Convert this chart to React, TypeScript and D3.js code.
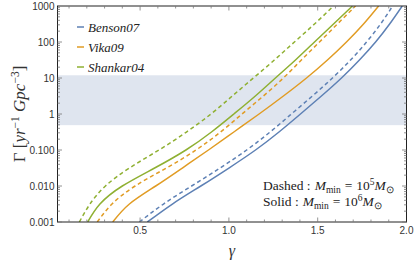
import React, { useEffect, useRef } from "react";
import * as d3 from "d3";

const levels = [0.001, 0.00316, 0.01, 0.0316, 0.1, 0.316, 1, 3.16, 10, 31.6, 100, 316, 1000];
// gamma (x) at which each curve crosses those levels
const bensonDashed = [0.496, 0.632, 0.79, 0.95, 1.1, 1.232, 1.352, 1.47, 1.583, 1.685, 1.775, 1.854, 1.922];
const bensonSolid = [0.541, 0.682, 0.842, 1.0, 1.15, 1.282, 1.403, 1.521, 1.634, 1.735, 1.826, 1.905, 1.976];
const vikaDashed = [0.259, 0.342, 0.472, 0.648, 0.815, 0.953, 1.074, 1.194, 1.307, 1.408, 1.51, 1.611, 1.713];
const vikaSolid = [0.346, 0.44, 0.588, 0.738, 0.885, 1.028, 1.17, 1.307, 1.437, 1.555, 1.662, 1.758, 1.843];
const shankarDashed = [0.158, 0.218, 0.305, 0.44, 0.606, 0.761, 0.899, 1.019, 1.138, 1.256, 1.369, 1.482, 1.589];
const shankarSolid = [0.205, 0.274, 0.4, 0.582, 0.758, 0.902, 1.028, 1.149, 1.262, 1.375, 1.482, 1.589, 1.696];

const legendNames = ["Benson07", "Vika09", "Shankar04"];
const colors = ["#5E81B5", "#E19C24", "#8FB032"];
const bandRange = [0.49, 11.9];
const xTicks = [0.5, 1.0, 1.5, 2.0];
const yTicks = [0.001, 0.01, 0.1, 1, 10, 100, 1000];
const yTickLabels = ["0.001", "0.010", "0.100", "1", "10", "100", "1000"];

export default function App() {
  const ref = useRef<SVGSVGElement>(null);

  useEffect(() => {
    const svg = d3.select(ref.current);
    svg.selectAll("*").remove();

    const left = 57.5, right = 406.5, top = 6, bottom = 222;
    const x = d3.scaleLinear().domain([0.035, 2.0]).range([left, right]);
    const y = d3.scaleLog().domain([0.001, 1000]).range([bottom, top]);

    svg.append("defs").append("clipPath").attr("id", "plot")
      .append("rect").attr("x", left).attr("y", top)
      .attr("width", right - left).attr("height", bottom - top);

    // shaded band
    svg.append("rect")
      .attr("x", left).attr("width", right - left)
      .attr("y", y(bandRange[1])).attr("height", y(bandRange[0]) - y(bandRange[1]))
      .attr("fill", "#dfe5ef");

    const series = [
      { g: bensonDashed, c: 0, dash: true },
      { g: bensonSolid, c: 0, dash: false },
      { g: vikaDashed, c: 1, dash: true },
      { g: vikaSolid, c: 1, dash: false },
      { g: shankarDashed, c: 2, dash: true },
      { g: shankarSolid, c: 2, dash: false },
    ];

    const line = d3.line<[number, number]>()
      .x((d) => x(d[0]))
      .y((d) => y(d[1]))
      .curve(d3.curveNatural);

    const plot = svg.append("g").attr("clip-path", "url(#plot)");
    series.forEach((s) => {
      const pts = s.g.map((g, i) => [g, levels[i]] as [number, number]);
      plot.append("path")
        .attr("d", line(pts))
        .attr("fill", "none")
        .attr("stroke", colors[s.c])
        .attr("stroke-width", 1.5)
        .attr("stroke-dasharray", s.dash ? "4,3" : null);
    });

    // frame
    svg.append("rect")
      .attr("x", left).attr("y", top)
      .attr("width", right - left).attr("height", bottom - top)
      .attr("fill", "none").attr("stroke", "#222").attr("stroke-width", 1);

    const tickColor = "#777";
    const ticks = svg.append("g").attr("stroke", tickColor).attr("stroke-width", 0.8);

    // x ticks
    d3.range(1, 20).map((i) => i / 10).forEach((v) => {
      const major = Math.abs(v * 2 - Math.round(v * 2)) < 1e-6;
      const len = major ? 4.5 : 2.5;
      ticks.append("line").attr("x1", x(v)).attr("x2", x(v)).attr("y1", bottom).attr("y2", bottom - len);
      ticks.append("line").attr("x1", x(v)).attr("x2", x(v)).attr("y1", top).attr("y2", top + len);
    });

    // y ticks
    for (let k = -3; k < 3; k++) {
      for (let m = 1; m < 10; m++) {
        const v = m * Math.pow(10, k);
        const len = m === 1 ? 4.5 : 2.5;
        ticks.append("line").attr("x1", left).attr("x2", left + len).attr("y1", y(v)).attr("y2", y(v));
        ticks.append("line").attr("x1", right).attr("x2", right - len).attr("y1", y(v)).attr("y2", y(v));
      }
    }

    const labelFont = "Liberation Sans, Arial, sans-serif";
    svg.append("g").selectAll("text").data(xTicks).enter().append("text")
      .attr("x", (d) => x(d)).attr("y", bottom + 12)
      .attr("text-anchor", "middle")
      .attr("font-family", labelFont).attr("font-size", 10).attr("fill", "#333")
      .text((d) => d.toFixed(1));

    svg.append("g").selectAll("text").data(yTicks).enter().append("text")
      .attr("x", left - 3).attr("y", (d) => y(d) + 3.5)
      .attr("text-anchor", "end")
      .attr("font-family", labelFont).attr("font-size", 10).attr("fill", "#333")
      .text((d, i) => yTickLabels[i]);

    const serif = "Liberation Serif, Times New Roman, serif";

    // axis labels
    svg.append("text")
      .attr("x", (left + right) / 2).attr("y", 256)
      .attr("text-anchor", "middle")
      .attr("font-family", serif).attr("font-size", 16).attr("font-style", "italic")
      .attr("fill", "#333")
      .text("γ");

    const yl = svg.append("text")
      .attr("transform", `translate(25,${(top + bottom) / 2}) rotate(-90)`)
      .attr("text-anchor", "middle")
      .attr("font-family", serif).attr("font-size", 17).attr("fill", "#333");
    yl.append("tspan").text("Γ [");
    yl.append("tspan").attr("font-style", "italic").text("yr");
    yl.append("tspan").attr("font-size", 11.5).attr("dy", -6).text("−1");
    yl.append("tspan").attr("dy", 6).attr("font-style", "italic").text(" Gpc");
    yl.append("tspan").attr("font-size", 11.5).attr("dy", -6).text("−3");
    yl.append("tspan").attr("dy", 6).text("]");

    // legend
    const lg = svg.append("g");
    legendNames.forEach((name, i) => {
      const ly = 27 + i * 20;
      lg.append("line").attr("x1", 77).attr("x2", 84).attr("y1", ly).attr("y2", ly)
        .attr("stroke", colors[i]).attr("stroke-width", 1.5);
      lg.append("text").attr("x", 88).attr("y", ly + 4.5)
        .attr("font-family", serif).attr("font-size", 13).attr("font-style", "italic")
        .attr("fill", "#222").text(name);
    });

    // annotation
    const notes = [["Dashed", "5"], ["Solid", "6"]];
    notes.forEach((n, i) => {
      const t = svg.append("text")
        .attr("x", 263).attr("y", 190 + i * 16)
        .attr("font-family", serif).attr("font-size", 13.5).attr("fill", "#222");
      t.append("tspan").text(n[0] + " :");
      t.append("tspan").attr("dx", 4).attr("font-style", "italic").text("M");
      t.append("tspan").attr("font-size", 9.5).attr("dy", 2.5).text("min");
      t.append("tspan").attr("dx", 4).attr("dy", -2.5).text("=");
      t.append("tspan").attr("dx", 4).text("10");
      t.append("tspan").attr("font-size", 9.5).attr("dy", -5).text(n[1]);
      t.append("tspan").attr("dy", 5).attr("font-style", "italic").text("M");
      t.append("tspan").attr("font-size", 9.5).attr("dy", 2.5).text("⊙");
    });
  }, []);

  return (
    <svg
      ref={ref}
      width={415}
      height={265}
      style={{ position: "absolute", left: 0, top: 0, background: "#fff" }}
    />
  );
}
